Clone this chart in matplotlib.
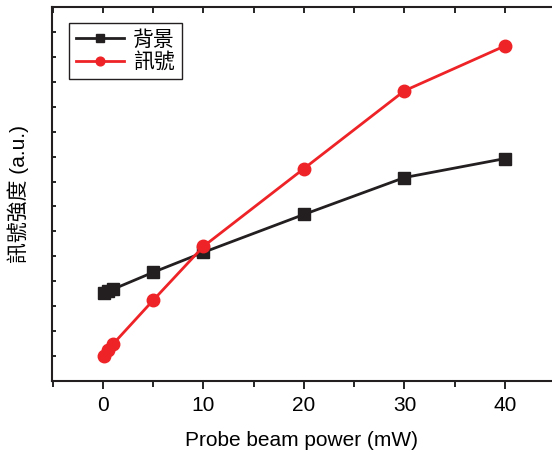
import numpy as np
import matplotlib
matplotlib.use('Agg')
import matplotlib.pyplot as plt
from matplotlib.ticker import MultipleLocator, NullFormatter

plt.rcParams['font.family'] = ['Liberation Sans', 'Noto Sans CJK TC', 'DejaVu Sans']

# power values (mW)
power = [0.1, 0.5, 1.0, 5, 10, 20, 30, 40]
# arbitrary units
background = [3.52, 3.6, 3.68, 4.36, 5.16, 6.68, 8.16, 8.92]
signal = [1.0, 1.24, 1.48, 3.24, 5.4, 8.52, 11.64, 13.44]

labels = ['背景', '訊號']
x_ticks = [0, 10, 20, 30, 40]

fig = plt.figure(figsize=(5.52, 4.57), dpi=100)
ax = fig.add_axes([0.0942, 0.1663, 0.9058, 0.8184])

ax.plot(power, background, '-s', color='#231f20', lw=2, ms=8.5, label=labels[0])
ax.plot(power, signal, '-o', color='#ee2327', lw=2, ms=9, label=labels[1])

ax.set_xlim(-5.07, 44.68)
ax.set_ylim(0, 15)
ax.set_xticks(x_ticks)
ax.xaxis.set_minor_locator(MultipleLocator(5))
ax.yaxis.set_major_locator(MultipleLocator(1))
ax.yaxis.set_major_formatter(NullFormatter())

ax.spines['right'].set_visible(False)
for s in ['left', 'bottom', 'top']:
    ax.spines[s].set_linewidth(1.5)
    ax.spines[s].set_color('#231f20')

ax.tick_params(axis='x', which='both', direction='out', top=True, labelsize=15, pad=5)
ax.tick_params(axis='x', which='major', length=6, width=1.2)
ax.tick_params(axis='x', which='minor', length=4, width=1.2)
ax.tick_params(axis='y', which='major', direction='in', length=3, width=1.2, right=False)
# top ticks point inward
ax.tick_params(axis='x', which='both', labeltop=False)
for t in ax.xaxis.get_major_ticks() + ax.xaxis.get_minor_ticks():
    t.tick2line.set_marker(3)  # TICKDOWN
    t.tick2line.set_markersize(4)

ax.set_xlabel('Probe beam power (mW)', fontsize=15, labelpad=11)
ax.set_ylabel('訊號強度 (a.u.)', fontsize=15, labelpad=13)

leg = ax.legend(loc='upper left', bbox_to_anchor=(0.034, 0.957), borderaxespad=0,
                fontsize=15, fancybox=False, edgecolor='#231f20', framealpha=1,
                handlelength=2.3, handletextpad=0.45, borderpad=0.33,
                labelspacing=0.12, markerscale=0.7)
leg.get_frame().set_linewidth(1.0)

fig.savefig('out.png', dpi=100)
